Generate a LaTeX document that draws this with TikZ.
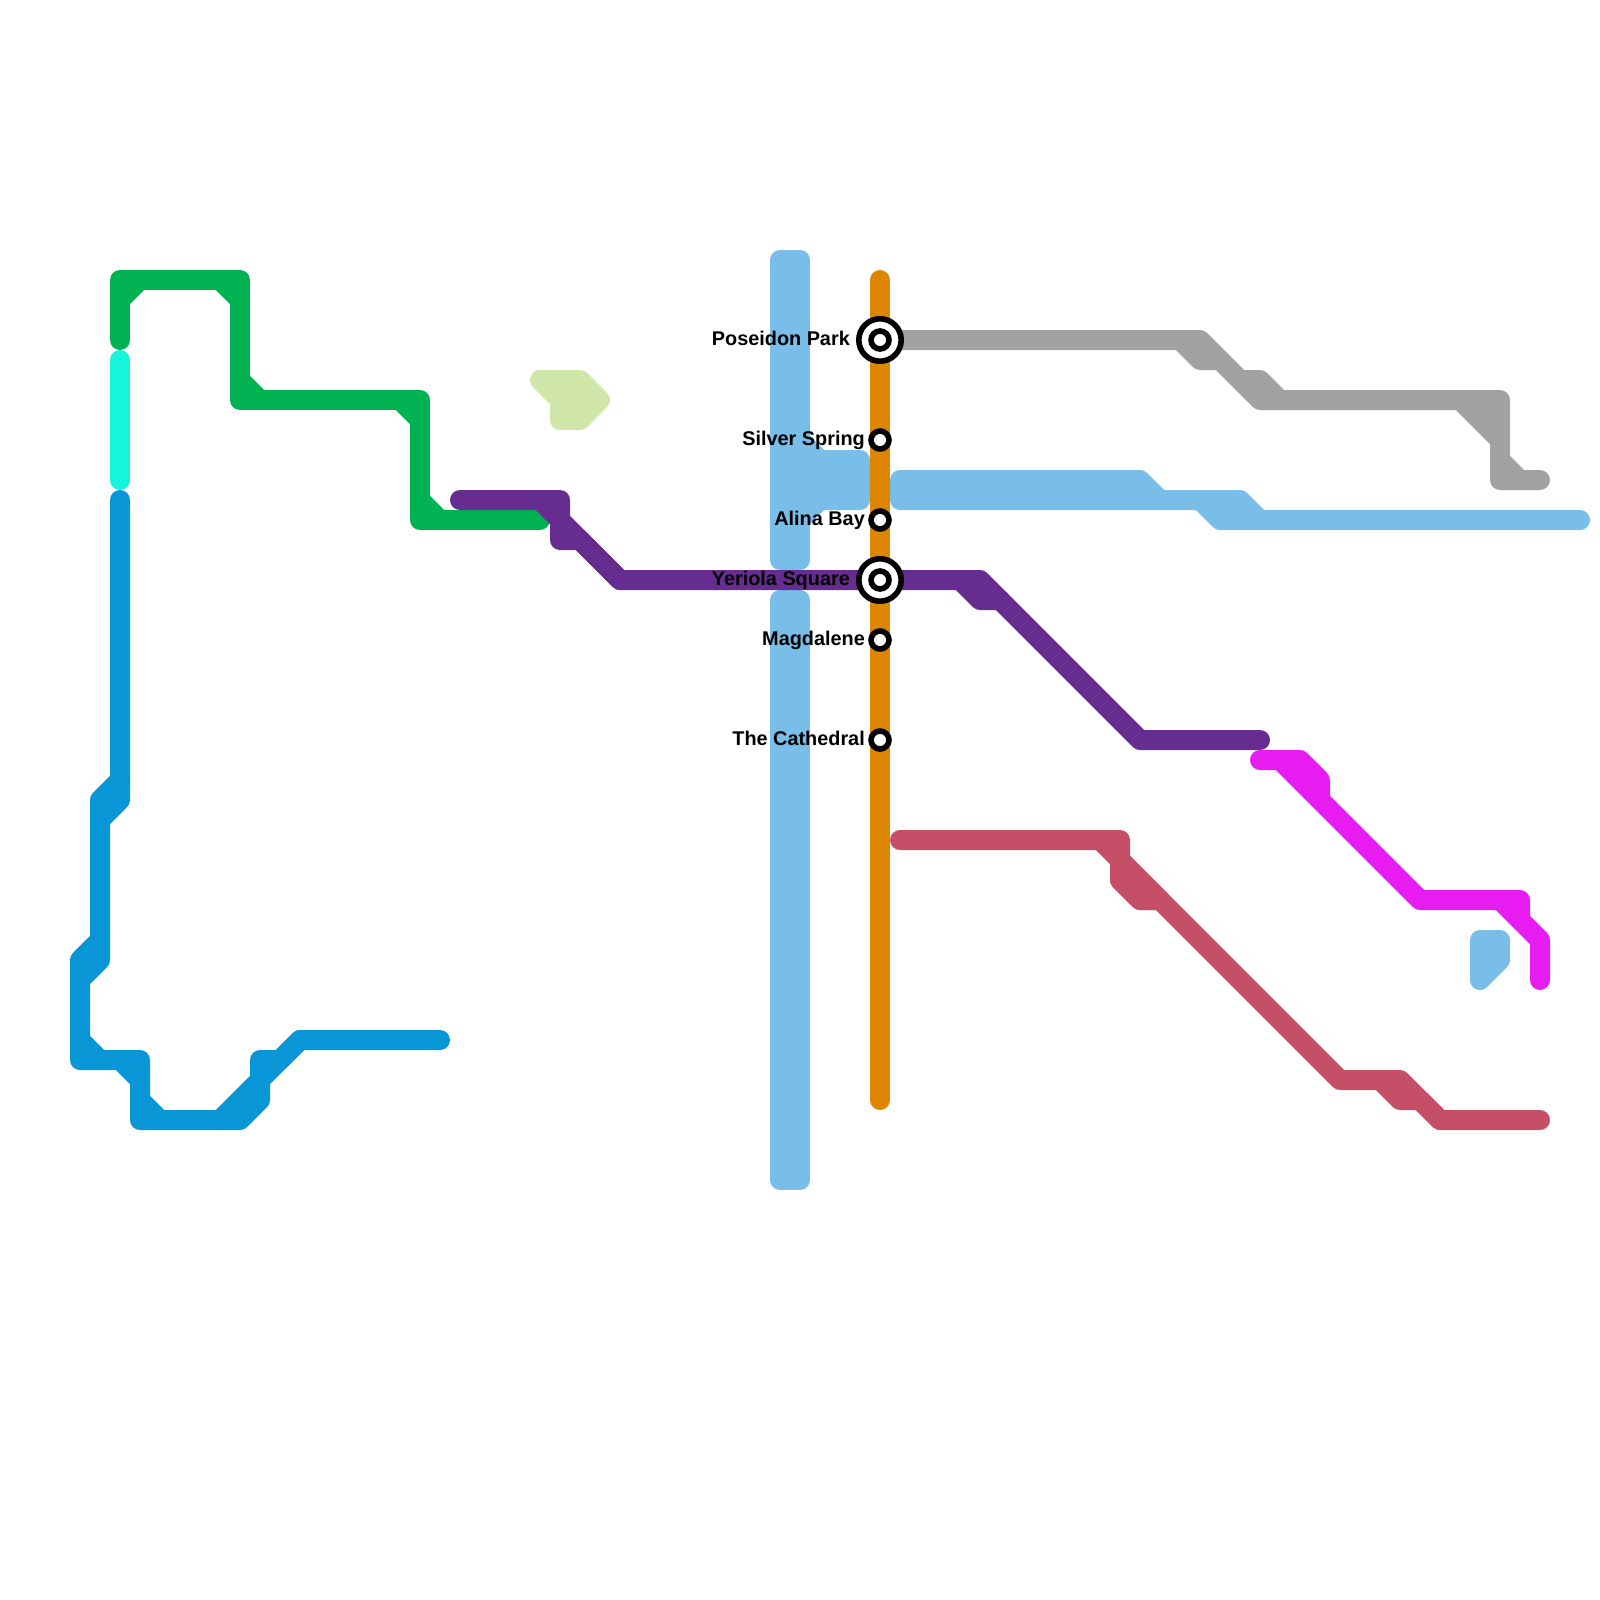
\documentclass[tikz,border=0pt]{standalone}
\usepackage{fontspec}
\setmainfont{Liberation Sans}
\definecolor{cOrange}{HTML}{DF8600}
\definecolor{cSky}{HTML}{79BDE9}
\definecolor{cBlue}{HTML}{0896D7}
\definecolor{cGreen}{HTML}{00B251}
\definecolor{cPurple}{HTML}{662C90}
\definecolor{cMagenta}{HTML}{E61CF0}
\definecolor{cRose}{HTML}{C44F67}
\definecolor{cGrey}{HTML}{A2A2A2}
\definecolor{cTeal}{HTML}{16F5DC}
\definecolor{cLime}{HTML}{D0E6A8}
\tikzset{
  metro/.style={draw=#1,line width=20pt,line cap=round,line join=round},
  metrofill/.style={draw=#1,fill=#1,line width=20pt,line cap=round,line join=round},
  smallstop/.style={circle,draw=black,fill=white,line width=5.6pt,minimum size=18pt,inner sep=0pt},
  hubstop/.style={circle,draw=black,fill=white,line width=5.6pt,minimum size=42.4pt,inner sep=0pt},
  hubcore/.style={circle,draw=black,fill=white,line width=5.6pt,minimum size=18pt,inner sep=0pt},
  stoplabel/.style={anchor=base east,inner sep=0pt,font=\fontsize{19.85}{24}\selectfont\bfseries,text=black}
}
\begin{document}
\begin{tikzpicture}[x=1pt,y=-1pt]
\useasboundingbox (0,0) rectangle (1600,1600);
% free ends of the orange line
\coordinate (orangeTop) at (880,280);
\coordinate (orangeBottom) at (880,1100);
% sky blue trunk and blocks
\draw[metrofill=cSky] (780,260) -- (800,260) -- (800,560) -- (780,560) -- cycle;
\draw[metrofill=cSky] (780,600) -- (800,600) -- (800,1180) -- (780,1180) -- cycle;
\draw[metrofill=cSky] (800,440) -- (820,460) -- (860,460) -- (860,500) -- (820,500) -- (800,520) -- cycle;
\draw[metrofill=cSky] (900,480) -- (1140,480) -- (1160,500) -- (1240,500) -- (1260,520) -- (1580,520) -- (1220,520) -- (1200,500) -- (900,500) -- cycle;
\draw[metrofill=cSky] (1480,940) -- (1500,940) -- (1500,960) -- (1480,980) -- cycle;
% green
\draw[metro=cGreen] (120,340) -- (120,280) -- (240,280) -- (240,400) -- (420,400) -- (420,520) -- (540,520);
\draw[metro=cGreen] (120,300) -- (140,280);
\draw[metro=cGreen] (220,280) -- (240,300);
\draw[metro=cGreen] (240,380) -- (260,400);
\draw[metro=cGreen] (400,400) -- (420,420);
\draw[metro=cGreen] (420,500) -- (440,520);
% teal
\draw[metro=cTeal] (120,360) -- (120,480);
% blue
\draw[metro=cBlue] (120,500) -- (120,800) -- (100,820);
\draw[metro=cBlue] (120,780) -- (100,800) -- (100,960) -- (80,980);
\draw[metro=cBlue] (100,940) -- (80,960) -- (80,1060) -- (140,1060) -- (140,1120) -- (240,1120) -- (260,1100) -- (260,1060) -- (280,1060) -- (300,1040) -- (440,1040);
\draw[metro=cBlue] (80,1040) -- (100,1060);
\draw[metro=cBlue] (120,1060) -- (140,1080);
\draw[metro=cBlue] (140,1100) -- (160,1120);
\draw[metro=cBlue] (220,1120) -- (300,1040);
% lime
\draw[metrofill=cLime] (540,380) -- (580,380) -- (600,400) -- (580,420) -- (560,420) -- (560,400) -- cycle;
% purple
\draw[metro=cPurple] (460,500) -- (560,500) -- (560,540) -- (580,540) -- (620,580) -- (980,580) -- (1140,740) -- (1260,740);
\draw[metro=cPurple] (540,500) -- (620,580);
\draw[metro=cPurple] (960,580) -- (980,600) -- (1000,600);
% grey
\draw[metrofill=cGrey] (880,340) -- (1200,340) -- (1240,380) -- (1260,380) -- (1280,400) -- (1500,400) -- (1500,460) -- (1520,480) -- (1540,480) -- (1500,480) -- (1500,440) -- (1460,400) -- (1260,400) -- (1220,360) -- (1200,360) -- (1180,340) -- cycle;
% magenta
\draw[metrofill=cMagenta] (1260,760) -- (1300,760) -- (1320,780) -- (1320,800) -- (1420,900) -- (1520,900) -- (1520,920) -- (1540,940) -- (1540,980) -- (1540,940) -- (1500,900) -- (1420,900) -- (1280,760) -- cycle;
% rose
\draw[metro=cRose] (900,840) -- (1120,840) -- (1120,860) -- (1340,1080) -- (1400,1080) -- (1440,1120) -- (1540,1120);
\draw[metro=cRose] (1100,840) -- (1120,860) -- (1120,880) -- (1140,900) -- (1160,900);
\draw[metrofill=cRose] (1120,860) -- (1160,900) -- (1140,900) -- (1120,880) -- cycle;
\draw[metro=cRose] (1380,1080) -- (1400,1100) -- (1420,1100) -- (1440,1120);
% orange
\draw[metro=cOrange] (orangeTop) -- (orangeBottom);
% stations
\node[hubstop] (poseidon) at (880,340) {};
\node[hubcore] (poseidonCore) at (880,340) {};
\node[smallstop] (silver) at (880,440) {};
\node[smallstop] (alina) at (880,520) {};
\node[hubstop] (yeriola) at (880,580) {};
\node[hubcore] (yeriolaCore) at (880,580) {};
\node[smallstop] (magdalene) at (880,640) {};
\node[smallstop] (cathedral) at (880,740) {};
% labels
\node[stoplabel] (poseidonLabel) at (850,345) {Poseidon Park};
\node[stoplabel] (silverLabel) at (865,445) {Silver Spring};
\node[stoplabel] (alinaLabel) at (865,525) {Alina Bay};
\node[stoplabel] (yeriolaLabel) at (850,585) {Yeriola Square};
\node[stoplabel] (magdaleneLabel) at (865,645) {Magdalene};
\node[stoplabel] (cathedralLabel) at (865,745) {The Cathedral};
\end{tikzpicture}
\end{document}
